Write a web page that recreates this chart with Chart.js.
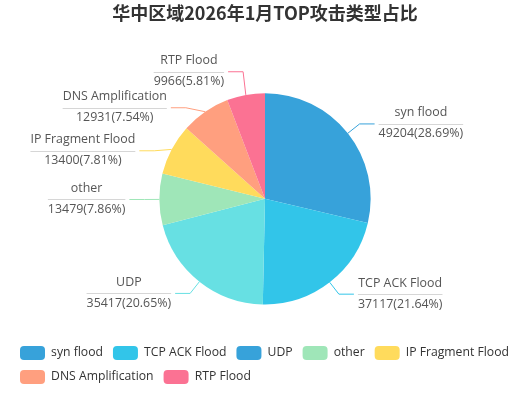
<!DOCTYPE html>
<html>
<head>
<meta charset="utf-8">
<script src="https://cdn.jsdelivr.net/npm/chart.js@4.4.1/dist/chart.umd.min.js"></script>
<style>
  html, body { margin: 0; padding: 0; background: #fff; }
  #wrap { width: 525px; height: 396px; }
</style>
</head>
<body>
<div id="wrap"><canvas id="myChart" width="525" height="396"></canvas></div>
<script>
var title = '华中区域2026年1月TOP攻击类型占比';
var labels = ['syn flood', 'TCP ACK Flood', 'UDP', 'other', 'IP Fragment Flood', 'DNS Amplification', 'RTP Flood'];
var counts = [49204, 37117, 35417, 13479, 13400, 12931, 9966];
var sliceColors = ['#37a2da', '#32c5e9', '#67e0e3', '#9fe6b8', '#ffdb5c', '#ff9f7f', '#fb7293'];
// legend in the original shows UDP with the first colour, keep it that way
var legendColors = ['#37a2da', '#32c5e9', '#37a2da', '#9fe6b8', '#ffdb5c', '#ff9f7f', '#fb7293'];

Chart.defaults.font.family = "'Open Sans', 'Noto Sans', sans-serif";

// echarts-like outside labels: name / rule / value(percent)
var outsideLabels = {
  id: 'outsideLabels',
  afterDatasetsDraw: function(chart) {
    var ctx = chart.ctx;
    var meta = chart.getDatasetMeta(0);
    var total = counts.reduce(function(a, b) { return a + b; }, 0);
    var len = 15, len2 = 15, h = 36, gap = 4;
    var left = [], right = [];

    meta.data.forEach(function(arc, i) {
      var p = arc.getProps(['x', 'y', 'startAngle', 'endAngle', 'outerRadius'], true);
      var mid = (p.startAngle + p.endAngle) / 2;
      var cos = Math.cos(mid), sin = Math.sin(mid);
      var item = {
        i: i, cx: p.x, cy: p.y, r: p.outerRadius,
        x1: p.x + cos * p.outerRadius, y1: p.y + sin * p.outerRadius,
        x2: p.x + cos * (p.outerRadius + len),
        y: p.y + sin * (p.outerRadius + len),
        dir: cos >= 0 ? 1 : -1
      };
      (item.dir > 0 ? right : left).push(item);
    });

    function adjust(list) {
      list.sort(function(a, b) { return a.y - b.y; });
      function shiftUp(end, delta) {
        for (var j = end; j >= 0; j--) {
          if (list[j].y - delta < 0) break;
          list[j].y -= delta;
          if (j > 0 && list[j].y > list[j - 1].y + h) break;
        }
      }
      function shiftDown(start, end, delta) {
        for (var j = start; j < end; j++) {
          if (list[j].y + delta > chart.height) break;
          list[j].y += delta;
          if (j > start && j + 1 < end && list[j + 1].y > list[j].y + h) {
            shiftUp(j, delta / 2);
            return;
          }
        }
        shiftUp(end - 1, delta / 2);
      }
      var lastY = 0;
      for (var i = 0; i < list.length; i++) {
        var d = list[i].y - lastY;
        if (d < 0) shiftDown(i, list.length, -d);
        lastY = list[i].y + h;
      }
      list.forEach(function(it) {
        var dy = Math.abs(it.y - it.cy);
        var rr = it.r + len;
        if (dy < rr) it.x2 = it.cx + it.dir * Math.sqrt(rr * rr - dy * dy);
      });
    }
    adjust(left);
    adjust(right);

    ctx.save();
    ctx.font = "12.4px 'Open Sans', 'Noto Sans', sans-serif";
    ctx.textAlign = 'center';
    ctx.textBaseline = 'middle';
    left.concat(right).forEach(function(it) {
      var x3 = it.x2 + it.dir * len2;
      ctx.strokeStyle = sliceColors[it.i];
      ctx.lineWidth = 1;
      ctx.beginPath();
      ctx.moveTo(it.x1, it.y1);
      ctx.lineTo(it.x2, it.y);
      ctx.lineTo(x3, it.y);
      ctx.stroke();

      var name = labels[it.i];
      var val = counts[it.i] + '(' + (counts[it.i] / total * 100).toFixed(2) + '%)';
      var w = Math.max(ctx.measureText(name).width, ctx.measureText(val).width);
      var bx = it.dir > 0 ? x3 + gap : x3 - gap - w;
      var ly = Math.round(it.y) + 0.5;
      ctx.strokeStyle = '#d6d6d6';
      ctx.beginPath();
      ctx.moveTo(bx, ly);
      ctx.lineTo(bx + w, ly);
      ctx.stroke();
      ctx.fillStyle = '#555';
      ctx.fillText(name, bx + w / 2, it.y - 11);
      ctx.fillText(val, bx + w / 2, it.y + 10);
    });
    ctx.restore();
  }
};

var ctx = document.getElementById('myChart').getContext('2d');
var myChart = new Chart(ctx, {
  type: 'pie',
  data: {
    labels: labels,
    datasets: [{
      data: counts,
      backgroundColor: sliceColors,
      borderWidth: 0,
      radius: '77%'
    }]
  },
  options: {
    responsive: false,
    animation: false,
    layout: { padding: { left: 10, right: 5, top: 2, bottom: 2 } },
    plugins: {
      title: {
        display: true,
        text: title,
        color: '#333',
        font: { size: 18, weight: 'bold', family: "'Noto Sans CJK SC', sans-serif" },
        padding: { top: 0, bottom: 38 }
      },
      legend: {
        position: 'bottom',
        align: 'start',
        labels: {
          boxWidth: 25,
          boxHeight: 14,
          padding: 10,
          color: '#333',
          font: { size: 12.2 },
          useBorderRadius: true,
          borderRadius: 4,
          generateLabels: function(chart) {
            return labels.map(function(name, i) {
              return {
                text: name, fillStyle: legendColors[i], strokeStyle: legendColors[i],
                lineWidth: 0, hidden: false, index: i, borderRadius: 4, fontColor: '#333'
              };
            });
          }
        }
      },
      tooltip: { enabled: false }
    }
  },
  plugins: [outsideLabels]
});
</script>
</body>
</html>
